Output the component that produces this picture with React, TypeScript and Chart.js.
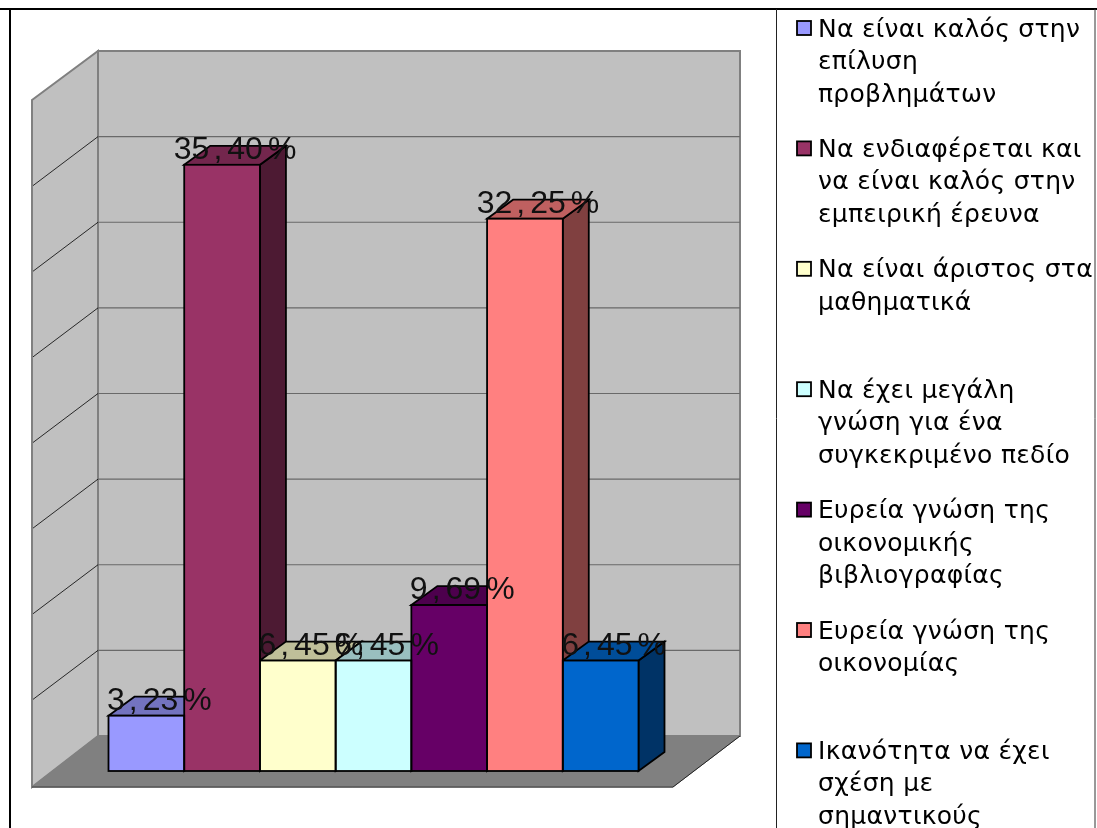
import { useEffect, useRef } from "react";
import { Chart, registerables } from "chart.js";

Chart.register(...registerables);

const categories = [""];
const seriesNames = [
  ["Να είναι καλός στην", "επίλυση", "προβλημάτων"],
  ["Να ενδιαφέρεται και", "να είναι καλός στην", "εμπειρική έρευνα"],
  ["Να είναι άριστος στα", "μαθηματικά"],
  ["Να έχει μεγάλη", "γνώση για ένα", "συγκεκριμένο πεδίο"],
  ["Ευρεία γνώση της", "οικονομικής", "βιβλιογραφίας"],
  ["Ευρεία γνώση της", "οικονομίας"],
  ["Ικανότητα να έχει", "σχέση με", "σημαντικούς"],
];
const seriesValues = [3.23, 35.4, 6.45, 6.45, 9.69, 32.25, 6.45];
const seriesColors = ["#9999FF", "#993366", "#FFFFCC", "#CCFFFF", "#660066", "#FF8080", "#0066CC"];
const topColors = ["#7373BF", "#73264D", "#BFBF99", "#99BFBF", "#4D004D", "#BF6060", "#004D99"];
const sideColors = ["#4D4D80", "#4D1A33", "#808066", "#668080", "#330033", "#804040", "#003366"];

const BAR_DX = 26;
const BAR_DY = 19;
const WALL_DX = 66;
const BACK_SHIFT = 35; // scale y → back wall y
const FRONT_DROP = 49; // back wall y → front wall y
const FLOOR_DROP = 51;

const LABEL_FONT = "32px 'Liberation Sans', Arial, sans-serif";
const LEGEND_FONT = "25px 'DejaVu Sans', Verdana, sans-serif";

const path = (ctx: CanvasRenderingContext2D, pts: number[][], fill: string, stroke: string, lw: number) => {
  ctx.beginPath();
  pts.forEach((p, i) => (i ? ctx.lineTo(p[0], p[1]) : ctx.moveTo(p[0], p[1])));
  ctx.closePath();
  ctx.fillStyle = fill;
  ctx.fill();
  ctx.strokeStyle = stroke;
  ctx.lineWidth = lw;
  ctx.stroke();
};

const line = (ctx: CanvasRenderingContext2D, x1: number, y1: number, x2: number, y2: number, c: string, lw: number) => {
  ctx.beginPath();
  ctx.moveTo(x1, y1);
  ctx.lineTo(x2, y2);
  ctx.strokeStyle = c;
  ctx.lineWidth = lw;
  ctx.stroke();
};

const scene3d = {
  id: "scene3d",
  beforeDatasetsDraw(chart: any) {
    const { ctx, scales } = chart;
    const y = scales.y;
    const area = chart.chartArea;
    const frontL = area.left - 21;
    const frontR = area.right - 21;
    const backL = frontL + WALL_DX;
    const backR = frontR + WALL_DX + 1;
    const backTop = y.getPixelForValue(40) - BACK_SHIFT;
    const backBot = y.getPixelForValue(0) - BACK_SHIFT;
    ctx.save();
    // outer frame
    line(ctx, 0, 9, 1097, 9, "#000000", 2);
    line(ctx, 10, 9, 10, 828, "#000000", 2);
    line(ctx, 1095, 9, 1095, 828, "#333333", 1);
    line(ctx, 776.5, 9, 776.5, 828, "#222222", 1);
    // walls
    path(ctx, [[backL, backTop], [backR, backTop], [backR, backBot], [backL, backBot]], "#C0C0C0", "#808080", 2);
    path(ctx, [[frontL, backTop + FRONT_DROP], [backL, backTop], [backL, backBot], [frontL, backBot + FLOOR_DROP]], "#C0C0C0", "#808080", 2);
    // grid
    y.ticks.forEach((t: any) => {
      if (t.value === 0 || t.value === 40) return;
      const by = y.getPixelForValue(t.value) - BACK_SHIFT;
      line(ctx, backL, by, backR, by, "#696969", 1.2);
      line(ctx, frontL + 1, by + FRONT_DROP, backL, by, "#000000", 0.8);
    });
    // floor
    path(ctx, [[frontL, backBot + FLOOR_DROP], [backL, backBot], [backR, backBot], [frontR, backBot + FLOOR_DROP]], "#808080", "#808080", 1);
    line(ctx, frontL, backBot + FLOOR_DROP, frontR, backBot + FLOOR_DROP, "#555555", 1.5);
    line(ctx, frontR, backBot + FLOOR_DROP, backR, backBot, "#222222", 1);
    // bar side and top faces
    seriesValues.forEach((_, i) => {
      const b = chart.getDatasetMeta(i).data[0];
      const l = b.x - b.width / 2;
      const r = b.x + b.width / 2;
      path(ctx, [[r, b.y], [r + BAR_DX, b.y - BAR_DY], [r + BAR_DX, b.base - BAR_DY], [r, b.base]], sideColors[i], "#000000", 1.8);
      path(ctx, [[l, b.y], [l + BAR_DX, b.y - BAR_DY], [r + BAR_DX, b.y - BAR_DY], [r, b.y]], topColors[i], "#000000", 1.8);
    });
    ctx.restore();
  },
  afterDatasetsDraw(chart: any) {
    const { ctx } = chart;
    ctx.save();
    // bar outlines
    seriesValues.forEach((_, i) => {
      const b = chart.getDatasetMeta(i).data[0];
      ctx.strokeStyle = "#000000";
      ctx.lineWidth = 1.8;
      ctx.strokeRect(b.x - b.width / 2, b.y, b.width, b.base - b.y);
    });
    // value labels, with the wide spacing of the original
    ctx.font = LABEL_FONT;
    ctx.fillStyle = "#111111";
    ctx.textBaseline = "alphabetic";
    ctx.textAlign = "left";
    seriesValues.forEach((v, i) => {
      const b = chart.getDatasetMeta(i).data[0];
      const [a, c] = v.toFixed(2).split(".");
      const parts = [a, ",", c, "%"];
      const gaps = [4, 5, 5, 0];
      const total = parts.reduce((s, p, k) => s + ctx.measureText(p).width + gaps[k], 0);
      let x = b.x + BAR_DX / 2 - total / 2;
      parts.forEach((p, k) => {
        ctx.fillText(p, x, b.y - 6);
        x += ctx.measureText(p).width + gaps[k];
      });
    });
    // legend
    ctx.font = LEGEND_FONT;
    (ctx as any).letterSpacing = "0.3px";
    seriesNames.forEach((lines, i) => {
      const top = 36.5 + i * 120.4;
      ctx.fillStyle = seriesColors[i];
      ctx.strokeStyle = "#000000";
      ctx.lineWidth = 1.8;
      ctx.fillRect(797, top - 15.5, 14, 14);
      ctx.strokeRect(797, top - 15.5, 14, 14);
      ctx.fillStyle = "#000000";
      lines.forEach((t, j) => ctx.fillText(t, 818, top + j * 32.5));
    });
    ctx.restore();
  },
};

export default function App() {
  const ref = useRef<HTMLCanvasElement>(null);
  useEffect(() => {
    const chart = new Chart(ref.current!, {
      type: "bar",
      data: {
        labels: categories,
        datasets: seriesValues.map((v, i) => ({
          label: seriesNames[i].join(" "),
          data: [v],
          backgroundColor: seriesColors[i],
          borderWidth: 0,
          barPercentage: 1,
          categoryPercentage: 530 / 641,
        })),
      },
      options: {
        animation: false,
        responsive: false,
        layout: { padding: { left: 53, right: 403, top: 86, bottom: 57 } },
        plugins: { legend: { display: false }, tooltip: { enabled: false } },
        scales: {
          x: { display: false },
          y: { display: false, min: 0, max: 40, ticks: { stepSize: 5 } },
        },
      },
      plugins: [scene3d],
    } as any);
    return () => chart.destroy();
  }, []);
  return (
    <canvas
      ref={ref}
      width={1097}
      height={828}
      style={{ position: "fixed", left: 0, top: 0, width: 1097, height: 828, display: "block" }}
    />
  );
}
